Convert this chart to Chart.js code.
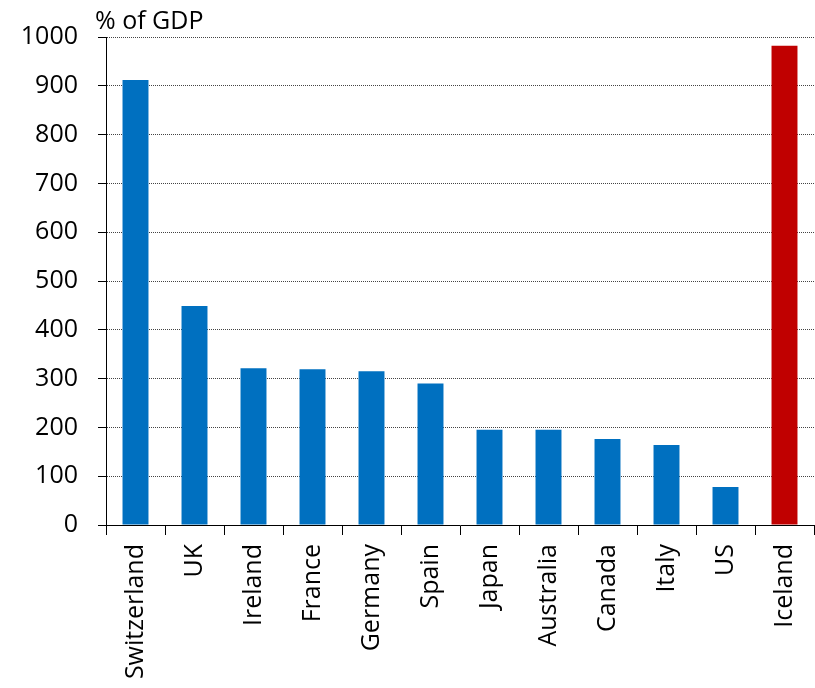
<!DOCTYPE html>
<html>
<head>
<meta charset="utf-8">
<script src="https://cdn.jsdelivr.net/npm/chart.js@4/dist/chart.umd.min.js"></script>
<style>
html,body{margin:0;padding:0;background:#fff;}
#wrap{width:815px;height:688px;position:relative;}
</style>
</head>
<body>
<div id="wrap"><canvas id="c" width="815" height="688"></canvas></div>
<script>
const categories = ["Switzerland","UK","Ireland","France","Germany","Spain","Japan","Australia","Canada","Italy","US","Iceland"];
const values = [912, 449, 321, 319, 315, 290, 195, 195, 176, 164, 78, 982];
const barColors = ["#0070C0","#0070C0","#0070C0","#0070C0","#0070C0","#0070C0","#0070C0","#0070C0","#0070C0","#0070C0","#0070C0","#C00000"];
const yTicks = [0,100,200,300,400,500,600,700,800,900,1000];
const unitLabel = "% of GDP";

const FONT = "'Open Sans', sans-serif";

const unitPlugin = {
  id: 'unitLabel',
  afterDraw(chart) {
    const ctx = chart.ctx;
    const a = chart.chartArea;
    ctx.save();
    ctx.font = "25px " + FONT;
    ctx.fillStyle = "#000";
    ctx.textAlign = "left";
    ctx.textBaseline = "alphabetic";
    ctx.fillText(unitLabel, a.left - 11, a.top - 8);
    ctx.restore();
  }
};

new Chart(document.getElementById('c'), {
  type: 'bar',
  data: {
    labels: categories,
    datasets: [{
      data: values,
      backgroundColor: barColors,
      borderWidth: 0,
      barPercentage: 0.88,
      categoryPercentage: 0.5
    }]
  },
  options: {
    responsive: false,
    animation: false,
    layout: { padding: { top: 37, right: 1, left: 0, bottom: 0 } },
    plugins: { legend: { display: false }, tooltip: { enabled: false }, title: { display: false } },
    scales: {
      x: {
        offset: true,
        grid: { offset: true, drawOnChartArea: false, drawTicks: true, tickLength: 10, color: "#000", tickColor: "#000", lineWidth: 1 },
        border: { display: true, color: "#000", width: 1 },
        ticks: {
          autoSkip: false, minRotation: 90, maxRotation: 90, padding: 9,
          color: "#000", font: { family: FONT, size: 25 }
        },
        afterFit(scale) {
          scale.height = 688 - 525;
          scale.paddingLeft = 0;
          scale.paddingRight = 0;
        }
      },
      y: {
        min: 0, max: 1000,
        afterBuildTicks(scale) { scale.ticks = yTicks.map(v => ({ value: v })); },
        grid: {
          drawTicks: true, tickLength: 8, color: "#444", lineWidth: 1,
          tickColor: "#000", tickBorderDash: [], tickWidth: 1
        },
        border: { display: true, color: "#000", width: 1, dash: [1, 1] },
        ticks: {
          padding: 20, color: "#000", font: { family: FONT, size: 25 },
          callback: (v) => String(v)
        },
        afterFit(scale) {
          scale.width = 106;
          scale.paddingTop = 0;
          scale.paddingBottom = 0;
        }
      }
    }
  },
  plugins: [unitPlugin]
});
</script>
</body>
</html>
